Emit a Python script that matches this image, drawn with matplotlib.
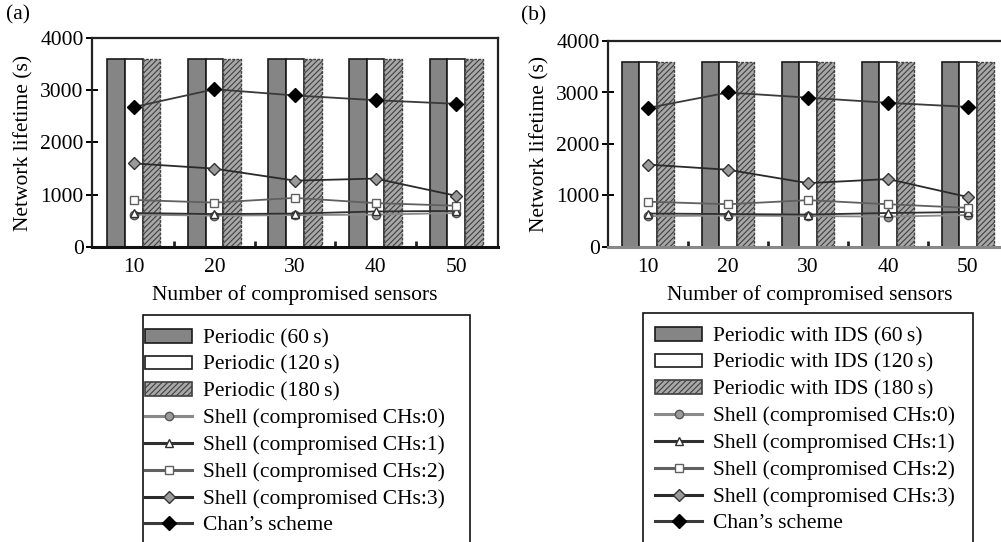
import matplotlib
matplotlib.use('Agg')
import matplotlib.pyplot as plt
from matplotlib.patches import Patch, Rectangle
from matplotlib.lines import Line2D
import numpy as np

plt.rcParams['font.family'] = ['Liberation Serif', 'DejaVu Serif']

# data
sensors = [10, 20, 30, 40, 50]
periodic_60 = [3600, 3600, 3600, 3600, 3600]
periodic_120 = [3600, 3600, 3600, 3600, 3600]
periodic_180 = [3600, 3600, 3600, 3600, 3600]

# panel (a)
a_chs0 = [620, 600, 610, 620, 650]
a_chs1 = [650, 630, 640, 680, 690]
a_chs2 = [900, 850, 940, 840, 790]
a_chs3 = [1600, 1500, 1270, 1310, 980]
a_chan = [2680, 3020, 2900, 2810, 2740]

# panel (b)
b_chs0 = [600, 610, 600, 590, 620]
b_chs1 = [650, 640, 630, 660, 680]
b_chs2 = [880, 830, 910, 830, 760]
b_chs3 = [1600, 1500, 1240, 1320, 970]
b_chan = [2700, 3000, 2900, 2800, 2720]

bar_labels_a = ['Periodic (60\u2009s)', 'Periodic (120\u2009s)', 'Periodic (180\u2009s)']
bar_labels_b = ['Periodic with IDS (60\u2009s)', 'Periodic with IDS (120\u2009s)', 'Periodic with IDS (180\u2009s)']
line_labels = ['Shell (compromised CHs:0)', 'Shell (compromised CHs:1)',
               'Shell (compromised CHs:2)', 'Shell (compromised CHs:3)', "Chan\u2019s scheme"]

FS = 15.5
W, H = 1001, 542
fig = plt.figure(figsize=(W / 100, H / 100), dpi=100)
plt.rcParams['hatch.color'] = '#5a5a5a'
plt.rcParams['hatch.linewidth'] = 0.8


def px(x0, y0, x1, y1):
    # pixel box -> figure rect
    return [x0 / W, 1 - y1 / H, (x1 - x0) / W, (y1 - y0) / H]


bar_styles = [
    dict(color='#858585', edgecolor='#1a1a1a', linewidth=1.2),
    dict(color='white', edgecolor='#1a1a1a', linewidth=1.2),
    dict(color='#a8a8a8', edgecolor='#404040', linewidth=1.0, hatch='//////', linestyle=(0, (2, 1))),
]
line_styles = [
    dict(color='#8a8a8a', marker='o', markersize=6, markerfacecolor='#9a9a9a', markeredgecolor='#555555'),
    dict(color='#303030', marker='^', markersize=6, markerfacecolor='white', markeredgecolor='#303030'),
    dict(color='#606060', marker='s', markersize=6, markerfacecolor='white', markeredgecolor='#606060'),
    dict(color='#2a2a2a', marker='D', markersize=6, markerfacecolor='#9a9a9a', markeredgecolor='#333333'),
    dict(color='#3a3a3a', marker='D', markersize=7, markerfacecolor='black', markeredgecolor='black'),
]


def draw_panel(rect, xlim, series, tag, tag_xy, bottom_color):
    ax = fig.add_axes(rect)
    x = np.array(sensors)
    bw = 2.2
    for vals, off, st in zip([periodic_60, periodic_120, periodic_180], [-bw, 0, bw], bar_styles):
        ax.bar(x + off, vals, width=bw, zorder=2, **st)
    for vals, st in zip(series, line_styles):
        ax.plot(x, vals, linewidth=1.3, zorder=3, **st)
    ax.set_xlim(*xlim)
    ax.set_ylim(0, 4000)
    ax.set_yticks([0, 1000, 2000, 3000, 4000])
    ax.set_xticks(sensors)
    ax.set_xticks([15, 25, 35, 45], minor=True)
    ax.tick_params(axis='x', which='major', length=0, pad=8, labelsize=FS)
    ax.tick_params(axis='x', which='minor', direction='in', length=4, width=2, color='#222222')
    ax.tick_params(axis='y', direction='inout', length=8, width=1.4, pad=2, labelsize=FS)
    for s in ax.spines.values():
        s.set_linewidth(1.6)
        s.set_color('#222222')
    ax.spines['bottom'].set_linewidth(2.2)
    ax.spines['bottom'].set_color(bottom_color)
    ax.set_ylabel('Network lifetime (s)', fontsize=FS, labelpad=5)
    ax.set_xlabel('Number of compromised sensors', fontsize=FS, labelpad=6)
    fig.text(tag_xy[0] / W, 1 - tag_xy[1] / H, tag, fontsize=FS, va='center', ha='left')
    return ax


draw_panel(px(92, 38, 498, 247), (4.8, 55.2), [a_chs0, a_chs1, a_chs2, a_chs3, a_chan], '(a)', (6, 15), '#111111')
draw_panel(px(608, 41, 1012, 247), (5.0, 55.5), [b_chs0, b_chs1, b_chs2, b_chs3, b_chan], '(b)', (521, 16), '#888888')


def draw_legend(box, bar_labels, handle_x):
    x0, y0, x1, y1 = box
    fig.patches.append(Rectangle((x0 / W, 1 - y1 / H), (x1 - x0) / W, (y1 - y0) / H,
                                 transform=fig.transFigure, fill=False, edgecolor='#111111', linewidth=1.2))
    handles = [Patch(facecolor=st['color'], edgecolor=st['edgecolor'], linewidth=1.2,
                     hatch=st.get('hatch')) for st in bar_styles]
    handles += [Line2D([], [], linewidth=2.2, **st) for st in line_styles]
    fig.legend(handles, bar_labels + line_labels, loc='upper left',
               bbox_to_anchor=(handle_x / W, 1 - (y0 + 14) / H), frameon=False,
               fontsize=FS, borderpad=0, borderaxespad=0, labelspacing=0.33,
               handlelength=2.2, handletextpad=0.5, handleheight=0.6)


draw_legend((143, 315, 470, 560), bar_labels_a, 145)
draw_legend((643, 313, 973, 560), bar_labels_b, 655)

fig.savefig('out.png', dpi=100)
